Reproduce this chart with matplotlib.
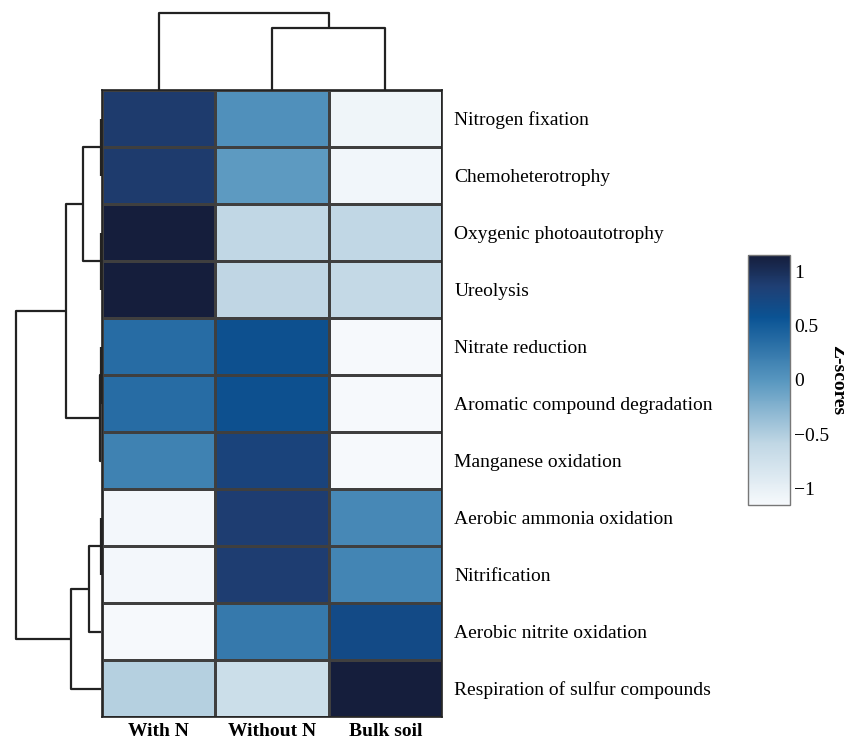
import numpy as np
import matplotlib
matplotlib.use("Agg")
import matplotlib.pyplot as plt
from matplotlib.colors import LinearSegmentedColormap, Normalize

plt.rcParams["font.family"] = ["Liberation Serif", "DejaVu Serif"]

# ---- data -------------------------------------------------------------
functions = [
    "Nitrogen fixation",
    "Chemoheterotrophy",
    "Oxygenic photoautotrophy",
    "Ureolysis",
    "Nitrate reduction",
    "Aromatic compound degradation",
    "Manganese oxidation",
    "Aerobic ammonia oxidation",
    "Nitrification",
    "Aerobic nitrite oxidation",
    "Respiration of sulfur compounds",
]
treatments = ["With N", "Without N", "Bulk soil"]

with_n = [0.90, 0.90, 1.15, 1.15, 0.36, 0.36, 0.18, -1.12, -1.12, -1.15, -0.52]
without_n = [0.05, -0.03, -0.59, -0.58, 0.62, 0.62, 0.80, 0.88, 0.88, 0.25, -0.70]
bulk_soil = [-1.08, -1.10, -0.59, -0.63, -1.15, -1.15, -1.15, 0.12, 0.15, 0.70, 1.15]

# hierarchical merges: (child a, child b, height); new clusters numbered from n
row_links = [
    (0, 1, 0.0),     # 11
    (2, 3, 0.0),     # 12
    (4, 5, 0.0),     # 13
    (13, 6, 1.0),    # 14
    (7, 8, 0.0),     # 15
    (11, 12, 18.0),  # 16
    (15, 9, 12.0),   # 17
    (16, 14, 35.0),  # 18
    (17, 10, 30.0),  # 19
    (18, 19, 85.0),  # 20
]
col_links = [
    (1, 2, 62.0),    # 3
    (0, 3, 77.0),    # 4
]

colorbar_ticks = [-1, -0.5, 0, 0.5, 1]
zlim = 2 / np.sqrt(3)

# ---- helpers ------------------------------------------------------------
def dendrogram_segments(links, n_leaves):
    pos = {i: i + 0.5 for i in range(n_leaves)}
    hgt = {i: 0.0 for i in range(n_leaves)}
    segs = []
    for k, (a, b, h) in enumerate(links):
        node = n_leaves + k
        segs.append(([hgt[a], h, h, hgt[b]], [pos[a], pos[a], pos[b], pos[b]]))
        pos[node] = (pos[a] + pos[b]) / 2
        hgt[node] = h
    return segs


data = np.array([with_n, without_n, bulk_soil]).T

cmap = LinearSegmentedColormap.from_list(
    "zblues",
    [
        (0.00, "#f6f9fc"),
        (0.25, "#bfd6e4"),
        (0.50, "#5796bf"),
        (0.75, "#0a5394"),
        (0.875, "#1f3f74"),
        (1.00, "#151e3c"),
    ],
)
norm = Normalize(-zlim, zlim)

W, H = 845, 740
fig = plt.figure(figsize=(W / 100, H / 100), dpi=100)


def fig_rect(x0, y0, x1, y1):
    return [x0 / W, 1 - y1 / H, (x1 - x0) / W, (y1 - y0) / H]


# ---- heatmap ------------------------------------------------------------
ax = fig.add_axes(fig_rect(102, 90, 442, 717))
ax.pcolormesh(np.arange(4), np.arange(12), data, cmap=cmap, norm=norm,
              edgecolors="#3f3f3f", linewidth=0.8)
ax.set_xlim(0, 3)
ax.set_ylim(11, 0)
ax.set_xticks(np.arange(3) + 0.5)
ax.set_xticklabels(treatments, fontsize=14, fontweight="bold")
ax.set_yticks(np.arange(11) + 0.5)
ax.set_yticklabels(functions, fontsize=14)
ax.yaxis.tick_right()
ax.tick_params(length=0, pad=9)
ax.tick_params(axis="x", pad=4)
for s in ax.spines.values():
    s.set_color("#222222")
    s.set_linewidth(1.2)

# ---- row dendrogram -----------------------------------------------------
axr = fig.add_axes(fig_rect(10, 90, 101, 717))
for xs, ys in dendrogram_segments(row_links, len(functions)):
    axr.plot(xs, ys, color="#222222", lw=1.6, solid_capstyle="butt", clip_on=False)
axr.set_ylim(11, 0)
axr.set_xlim(91, 0)
axr.axis("off")

# ---- column dendrogram --------------------------------------------------
axc = fig.add_axes(fig_rect(102, 5, 442, 90))
for hs, xs in dendrogram_segments(col_links, len(treatments)):
    axc.plot(xs, hs, color="#222222", lw=1.6, solid_capstyle="butt", clip_on=False)
axc.set_xlim(0, 3)
axc.set_ylim(0, 85)
axc.axis("off")

# ---- colorbar -----------------------------------------------------------
cax = fig.add_axes(fig_rect(748, 255, 790, 505))
cb = fig.colorbar(plt.cm.ScalarMappable(norm=norm, cmap=cmap), cax=cax)
cb.set_ticks(colorbar_ticks)
cb.set_ticklabels(["\u22121", "\u22120.5", "0", "0.5", "1"])
cb.ax.tick_params(length=0, pad=3, labelsize=14)
cb.outline.set_edgecolor("#777777")
cb.outline.set_linewidth(1.0)
cb.set_label("Z-scores", rotation=270, fontsize=14, fontweight="bold", labelpad=12)

fig.savefig("out.png", dpi=100)
